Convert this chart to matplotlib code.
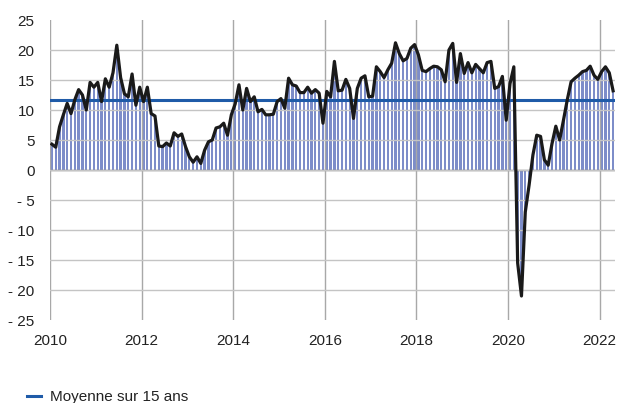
import matplotlib
matplotlib.use("Agg")
import matplotlib.pyplot as plt
import numpy as np

# monthly values, Jan 2010 -> Apr 2022
values = [
    4.3, 3.8, 7.2, 9.2, 11.1, 9.4, 11.7, 13.4, 12.5, 10.0, 14.6, 13.8,      # 2010
    14.6, 11.4, 15.2, 13.8, 16.2, 20.8, 15.4, 12.7, 12.2, 16.0, 10.8, 13.8,  # 2011
    11.4, 13.8, 9.4, 9.0, 4.0, 3.9, 4.5, 4.0, 6.2, 5.6, 6.0, 3.9,            # 2012
    2.2, 1.3, 2.2, 1.1, 3.3, 4.7, 5.0, 7.0, 7.2, 7.8, 5.8, 9.2,              # 2013
    11.0, 14.2, 10.0, 13.6, 11.4, 12.2, 9.7, 10.1, 9.2, 9.2, 9.3, 11.4,      # 2014
    11.9, 10.3, 15.3, 14.2, 14.0, 12.9, 12.9, 13.8, 12.8, 13.4, 12.8, 7.8,   # 2015
    13.1, 12.2, 18.1, 13.2, 13.3, 15.1, 13.6, 8.6, 13.6, 15.3, 15.7, 12.2,   # 2016
    12.3, 17.2, 16.4, 15.4, 16.7, 17.8, 21.2, 19.4, 18.2, 18.6, 20.3, 20.9,  # 2017
    19.2, 16.6, 16.4, 16.9, 17.3, 17.2, 16.7, 14.7, 20.0, 21.1, 14.6, 19.4,  # 2018
    16.1, 17.9, 16.2, 17.6, 16.9, 16.2, 17.9, 18.1, 13.6, 13.9, 15.6, 8.3,   # 2019
    14.4, 17.2, -15.5, -21.0, -7.0, -2.5, 2.5, 5.8, 5.6, 1.7, 0.8, 4.4,      # 2020
    7.3, 5.0, 8.3, 11.7, 14.7, 15.3, 15.8, 16.4, 16.6, 17.3, 15.8, 15.1,     # 2021
    16.4, 17.2, 16.2, 13.2,                                                  # 2022
]
mean_15y = 11.7
years = [2010, 2012, 2014, 2016, 2018, 2020, 2022]
yticks = [25, 20, 15, 10, 5, 0, -5, -10, -15, -20, -25]

plt.rcParams['font.family'] = ['Liberation Sans', 'DejaVu Sans']

fig = plt.figure(figsize=(6.19, 4.03), dpi=100)
ax = fig.add_axes([50 / 619, 1 - 320 / 403, 565 / 619, 300 / 403])

x = np.arange(len(values)) + 0.5
ax.bar(x, values, width=0.6, color='#7D8DC9', zorder=1)
ax.plot(x, values, color='#1A1A1A', lw=2.3, zorder=4)
ax.axhline(mean_15y, color='#1F5BA8', lw=2.2, zorder=3, label='Moyenne sur 15 ans')
ax.axhline(0, color='#707070', lw=1.0, zorder=2)

ax.set_xlim(0, len(values))
ax.set_ylim(-25, 25)
month_ticks = [(y - 2010) * 12 for y in years]
ax.set_xticks(month_ticks)
ax.set_xticklabels([str(y) for y in years])
ax.set_yticks(yticks)
ax.set_yticklabels([str(v) if v >= 0 else '- ' + str(-v) for v in yticks])

ax.grid(axis='y', color='#C4C4C4', lw=1.0, zorder=2)
ax.grid(axis='x', color='#A8A8A8', lw=1.0, zorder=2)
ax.set_axisbelow(False)
# no gridline at the top / bottom limit
for gl, v in zip(ax.get_ygridlines(), yticks):
    if abs(v) == 25:
        gl.set_visible(False)

for s in ax.spines.values():
    s.set_visible(False)
ax.tick_params(length=0, labelsize=11, colors='#222222')
ax.tick_params(axis='y', pad=11)
ax.tick_params(axis='x', pad=10)

fig.legend(loc='center left', bbox_to_anchor=(27 / 619, 1 - 397 / 403),
           frameon=False, borderpad=0, borderaxespad=0, handlelength=0.9,
           handletextpad=0.6, fontsize=11, labelcolor='#222222')

fig.savefig('out.png', dpi=100)
